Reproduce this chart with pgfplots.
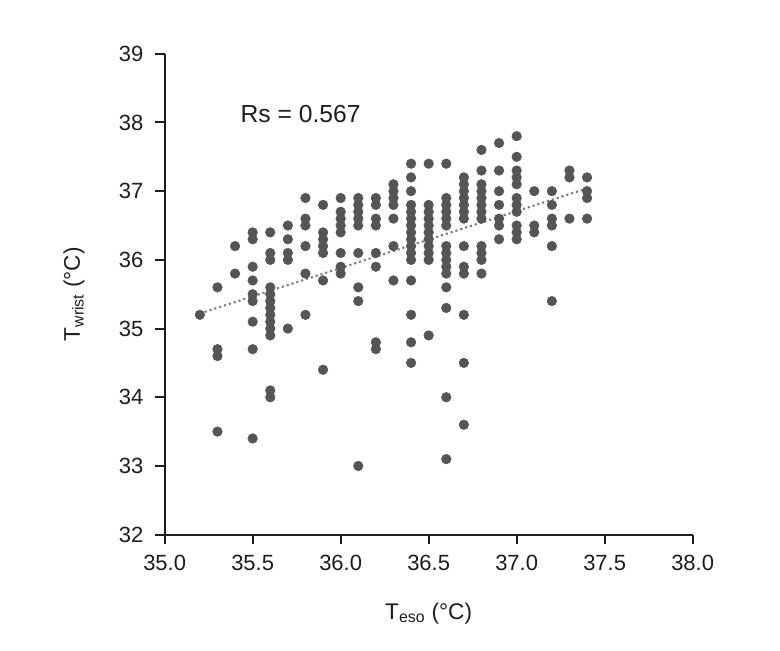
\documentclass[border=0pt]{standalone}
\usepackage{fontspec}
\setmainfont{Liberation Sans}
\usepackage{pgfplots}
\pgfplotsset{compat=1.18}
\definecolor{dotgray}{RGB}{85,85,85}
\definecolor{fitgray}{RGB}{125,125,125}
\definecolor{ink}{RGB}{30,30,30}
\begin{document}
\begin{tikzpicture}
% 1 px of the reference = 0.75pt
\useasboundingbox (-123.5pt,-87.2pt) rectangle (461.5pt,401pt);
\begin{axis}[scale only axis, width=396pt, height=360.7pt,
    xmin=35, xmax=38, ymin=32, ymax=39,
    axis x line=bottom, axis y line=left,
    axis line style={-, line width=1.5pt, ink},
    xtick={35,35.5,...,38}, ytick={32,33,...,39},
    tick align=outside, major tick length=7pt,
    tick style={line width=1.5pt, ink},
    /pgf/number format/assume math mode=true,
    ticklabel style={font=\fontsize{16.5}{19}\selectfont, text=ink},
    xticklabel style={yshift=-5pt, /pgf/number format/fixed,
        /pgf/number format/fixed zerofill, /pgf/number format/precision=1},
    yticklabel style={xshift=-5.5pt},
    xlabel={T\textsubscript{eso} (°C)}, ylabel={T\textsubscript{wrist} (°C)},
    label style={font=\fontsize{17}{20}\selectfont, text=ink},
    xlabel style={at={([yshift=-63.5pt]axis description cs:0.5,0)}, anchor=base},
    ylabel style={at={([xshift=-63.5pt]axis description cs:0,0.5)}, anchor=base},
    clip=false]
\addplot[fitgray, line width=1.6pt, dash pattern=on 1.6pt off 2.2pt]
    coordinates {(35.2,35.22) (37.4,37.04)};
\addplot[only marks, mark=*, mark size=3.6pt, dotgray, mark options={draw=dotgray, fill=dotgray}]
    coordinates {
    (35.2,35.2)
    (35.3,35.6) (35.3,34.7) (35.3,34.6) (35.3,33.5)
    (35.4,36.2) (35.4,35.8)
    (35.5,36.4) (35.5,36.3) (35.5,35.9) (35.5,35.7) (35.5,35.5) (35.5,35.4) (35.5,35.1) (35.5,34.7) (35.5,33.4)
    (35.6,36.4) (35.6,36.1) (35.6,36.0) (35.6,35.6) (35.6,35.5) (35.6,35.4) (35.6,35.3) (35.6,35.2)
    (35.6,35.1) (35.6,35.0) (35.6,34.9) (35.6,34.1) (35.6,34.0)
    (35.7,36.5) (35.7,36.3) (35.7,36.1) (35.7,36.0) (35.7,35.0)
    (35.8,36.9) (35.8,36.6) (35.8,36.5) (35.8,36.2) (35.8,35.8) (35.8,35.2)
    (35.9,36.8) (35.9,36.4) (35.9,36.3) (35.9,36.2) (35.9,36.1) (35.9,35.7) (35.9,34.4)
    (36.0,36.9) (36.0,36.7) (36.0,36.6) (36.0,36.5) (36.0,36.4) (36.0,36.1) (36.0,35.9) (36.0,35.8)
    (36.1,36.9) (36.1,36.8) (36.1,36.7) (36.1,36.6) (36.1,36.5) (36.1,36.1) (36.1,35.6) (36.1,35.4) (36.1,33.0)
    (36.2,36.9) (36.2,36.8) (36.2,36.6) (36.2,36.5) (36.2,36.1) (36.2,35.9) (36.2,34.8) (36.2,34.7)
    (36.3,37.1) (36.3,37.0) (36.3,36.9) (36.3,36.8) (36.3,36.6) (36.3,36.2) (36.3,35.7)
    (36.4,37.4) (36.4,37.2) (36.4,37.0) (36.4,36.8) (36.4,36.7) (36.4,36.6) (36.4,36.5) (36.4,36.4)
    (36.4,36.3) (36.4,36.2) (36.4,36.1) (36.4,36.0) (36.4,35.7) (36.4,35.2) (36.4,34.8) (36.4,34.5)
    (36.5,37.4) (36.5,36.8) (36.5,36.7) (36.5,36.6) (36.5,36.5) (36.5,36.4) (36.5,36.3) (36.5,36.2)
    (36.5,36.1) (36.5,36.0) (36.5,34.9)
    (36.6,37.4) (36.6,36.9) (36.6,36.8) (36.6,36.7) (36.6,36.6) (36.6,36.5) (36.6,36.2) (36.6,36.1)
    (36.6,36.0) (36.6,35.9) (36.6,35.8) (36.6,35.6) (36.6,35.3) (36.6,34.0) (36.6,33.1)
    (36.7,37.2) (36.7,37.1) (36.7,37.0) (36.7,36.9) (36.7,36.8) (36.7,36.7) (36.7,36.6) (36.7,36.2)
    (36.7,35.9) (36.7,35.8) (36.7,35.2) (36.7,34.5) (36.7,33.6)
    (36.8,37.6) (36.8,37.3) (36.8,37.1) (36.8,37.0) (36.8,36.9) (36.8,36.8) (36.8,36.7) (36.8,36.6)
    (36.8,36.2) (36.8,36.1) (36.8,36.0) (36.8,35.8)
    (36.9,37.7) (36.9,37.3) (36.9,37.0) (36.9,36.8) (36.9,36.6) (36.9,36.5) (36.9,36.3)
    (37.0,37.8) (37.0,37.5) (37.0,37.3) (37.0,37.2) (37.0,37.1) (37.0,36.9) (37.0,36.8) (37.0,36.7)
    (37.0,36.5) (37.0,36.4) (37.0,36.3)
    (37.1,37.0) (37.1,36.5) (37.1,36.4)
    (37.2,37.0) (37.2,36.8) (37.2,36.6) (37.2,36.5) (37.2,36.2) (37.2,35.4)
    (37.3,37.3) (37.3,37.2) (37.3,36.6)
    (37.4,37.2) (37.4,37.0) (37.4,36.9) (37.4,36.6)
    };
\node[anchor=base west, inner sep=0pt, font=\fontsize{18.5}{22}\selectfont, text=ink]
    at (axis cs:35.43,38.0) {Rs = 0.567};
\end{axis}
\end{tikzpicture}
\end{document}
